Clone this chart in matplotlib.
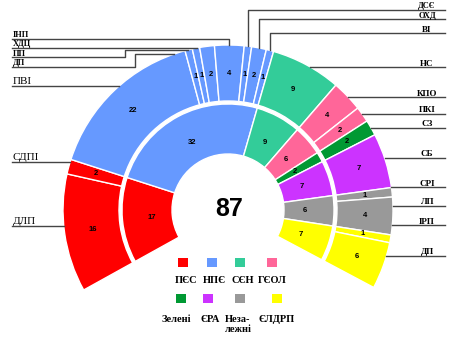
import numpy as np
import matplotlib
matplotlib.use('Agg')
import matplotlib.pyplot as plt
from matplotlib.patches import Wedge, Rectangle

# inner ring: political groups
groups = ['ПЄС', 'НПЄ', 'СЄН', 'ГЄОЛ', 'Зелені', 'ЄРА', 'Неза-\nлежні', 'ЄЛДРП']
group_seats = [17, 32, 9, 6, 2, 7, 6, 7]
group_colors = ['#ff0000', '#6699ff', '#33cc99', '#ff6699', '#009933', '#cc33ff', '#999999', '#ffff00']
total_label = '87'

# outer ring: national parties, index of the group they sit in
parties = ['ДЛП', 'СДПІ', 'ПВІ', 'ДП', 'ПП', 'ХДЦ', 'ІНП', 'ДСЄ', 'ОХД', 'ВІ',
           'НС', 'КПО', 'ПКІ', 'СЗ', 'СБ', 'СРІ', 'ЛП', 'ІРП', 'ДП']
party_seats = [16, 2, 22, 1, 1, 2, 4, 1, 2, 1, 9, 4, 2, 2, 7, 1, 4, 1, 6]
party_group = [0, 0, 1, 1, 1, 1, 1, 1, 1, 1, 2, 3, 3, 4, 5, 6, 6, 7, 7]

# label placement (side, y of the leader line in px from top, route, font size, bold)
label_layout = [
    ('L', 226, None, 8, False),
    ('L', 162, None, 8, False),
    ('L', 86, None, 8, False),
    ('L', 66.5, (135, 54), 6, True),
    ('L', 57, (125, 50), 6, True),
    ('L', 48, None, 6, True),
    ('L', 38.5, 'drop', 6, True),
    ('R', 10, 'drop', 6, True),
    ('R', 19, 'drop', 6, True),
    ('R', 33, 'drop', 6.5, True),
    ('R', 67, None, 6.5, True),
    ('R', 97, None, 6.5, True),
    ('R', 114, None, 6.5, True),
    ('R', 128, None, 6.5, True),
    ('R', 158, None, 6.5, True),
    ('R', 187, None, 6.5, True),
    ('R', 206, None, 6.5, True),
    ('R', 225, None, 6.5, True),
    ('R', 256, None, 6.5, True),
]

W, H = 456, 351
cx, cy = 228, H - 210
r0, r1, r2, r3 = 56, 106, 109, 165
a_start, a_end = 209.0, -28.0


def Y(y):
    return H - y


fig = plt.figure(figsize=(4.56, 3.51), dpi=100)
ax = fig.add_axes([0, 0, 1, 1])
ax.set_xlim(0, W)
ax.set_ylim(0, H)
ax.axis('off')

# inner ring
span = a_start - a_end
bounds = a_start - span * np.concatenate([[0], np.cumsum(group_seats)]) / sum(group_seats)
for i, n in enumerate(group_seats):
    t1, t2 = bounds[i + 1], bounds[i]
    ax.add_patch(Wedge((cx, cy), r1, t1, t2, width=r1 - r0, facecolor=group_colors[i],
                       edgecolor='white', linewidth=1.0))
    m = np.radians((t1 + t2) / 2)
    rm = (r0 + r1) / 2 - 4
    ax.text(cx + rm * np.cos(m), cy + rm * np.sin(m), str(n), ha='center', va='center',
            fontsize=5.5, fontweight='bold', family='Liberation Sans')

# outer ring, each group's arc split by its parties
party_mid = []
for g in range(len(group_seats)):
    idx = [k for k in range(len(parties)) if party_group[k] == g]
    seats = np.array([party_seats[k] for k in idx])
    b = bounds[g] - (bounds[g] - bounds[g + 1]) * np.concatenate([[0], np.cumsum(seats)]) / seats.sum()
    for j, k in enumerate(idx):
        t1, t2 = b[j + 1], b[j]
        ax.add_patch(Wedge((cx, cy), r3, t1, t2, width=r3 - r2, facecolor=group_colors[g],
                           edgecolor='white', linewidth=1.0))
        m = np.radians((t1 + t2) / 2)
        rm = (r2 + r3) / 2
        ax.text(cx + rm * np.cos(m), cy + rm * np.sin(m), str(party_seats[k]), ha='center',
                va='center', fontsize=5.5, fontweight='bold', family='Liberation Sans')
        party_mid.append((k, m))
party_mid = dict(party_mid)

# leader lines and party names
line_kw = dict(color='#444444', linewidth=1.0)
for k, name in enumerate(parties):
    side, ly, route, fs, bold = label_layout[k]
    sgn = -1 if side == 'L' else 1
    edge = 12 if side == 'L' else 445
    if route == 'drop':
        m = party_mid[k]
        px, py = cx + r3 * np.cos(m), cy + r3 * np.sin(m)
        ax.plot([edge, px, px], [Y(ly), Y(ly), py], **line_kw)
    elif route is None:
        px = cx + sgn * np.sqrt(r3 ** 2 - (cy - Y(ly)) ** 2)
        ax.plot([edge, px], [Y(ly), Y(ly)], **line_kw)
    else:
        ex, ey = route
        px = cx + sgn * np.sqrt(r3 ** 2 - (cy - Y(ey)) ** 2)
        ax.plot([edge, ex, ex, px], [Y(ly), Y(ly), Y(ey), Y(ey)], **line_kw)
    tx = 13 if side == 'L' else 427
    ax.text(tx, Y(ly - 1.5), name, ha='left' if side == 'L' else 'center', va='baseline',
            fontsize=fs, fontweight='bold' if bold else 'normal', family='Liberation Serif')

ax.text(cx + 1, Y(209), total_label, ha='center', va='center', fontsize=18,
        fontweight='bold', family='Liberation Sans')

# legend
sq_pos = [(183, 262), (212, 262), (240, 262), (272, 262), (181, 298), (208, 298), (240, 298), (277, 298)]
txt_pos = [(186, 276), (214, 276), (243, 276), (272, 276), (176, 315), (210, 315), (238, 315), (277, 315)]
for i, g in enumerate(groups):
    sx, sy = sq_pos[i]
    ax.add_patch(Rectangle((sx - 5, Y(sy) - 4.5), 10, 9, facecolor=group_colors[i], edgecolor='none'))
    tx, ty = txt_pos[i]
    ax.text(tx, Y(ty), g, ha='center', va='top', fontsize=7.5, fontweight='bold',
            family='Liberation Serif', linespacing=1.15)

fig.savefig('out.png', dpi=100)
